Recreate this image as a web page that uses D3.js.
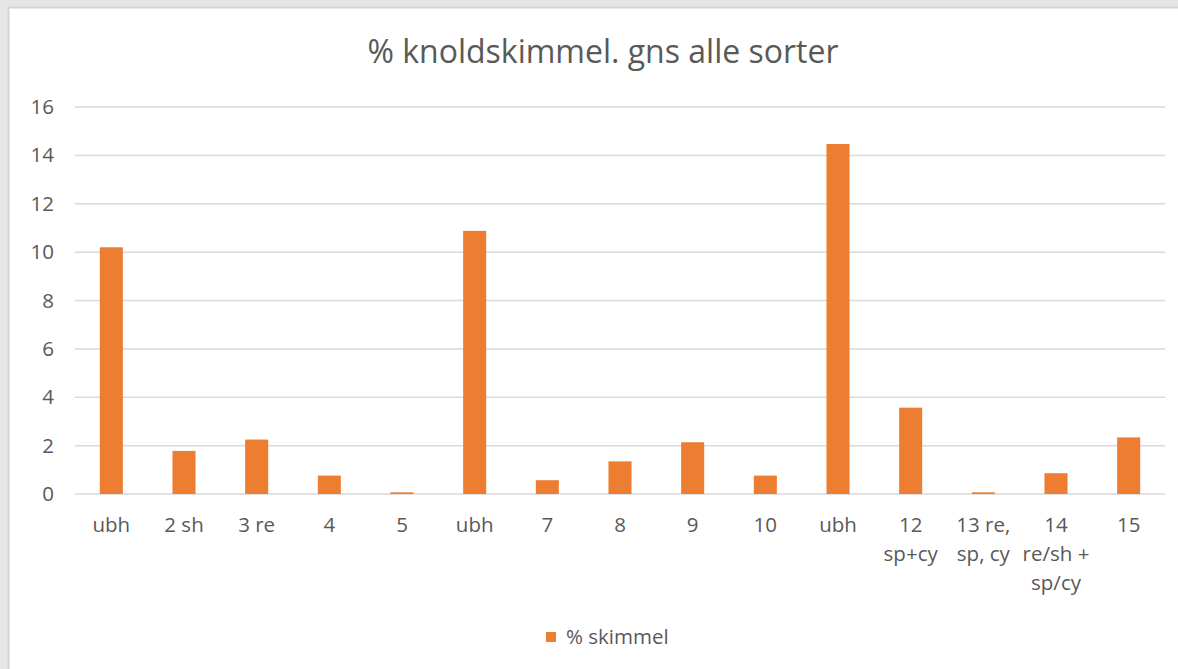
<!DOCTYPE html>
<html>
<head>
<meta charset="utf-8">
<script src="https://cdn.jsdelivr.net/npm/d3@7"></script>
<style>
  body { margin: 0; background: #e6e6e6; }
  #viz { position: absolute; left: 0; top: 0; }
  text { font-family: 'Open Sans', sans-serif; fill: #595959; }
</style>
</head>
<body>
<div id="viz"></div>
<script>
// data
const labels = ['ubh', '2 sh', '3 re', '4', '5', 'ubh', '7', '8', '9', '10', 'ubh', '12\nsp+cy', '13 re,\nsp, cy', '14\nre/sh +\nsp/cy', '15'];
const skimmel = [10.2, 1.78, 2.25, 0.76, 0.07, 10.88, 0.57, 1.35, 2.14, 0.76, 14.47, 3.57, 0.07, 0.86, 2.34];
const yTicks = [0, 2, 4, 6, 8, 10, 12, 14, 16];
const title = '% knoldskimmel. gns alle sorter';
const seriesName = '% skimmel';

const w = 1178;
const h = 669;
const fs = '20.5px';

var svg = d3.select('#viz').
append('svg').
attr('width', w).
attr('height', h);

// chart panel
svg.append('rect').
attr('x', 8.5).
attr('y', 7.5).
attr('width', w).
attr('height', h).
attr('fill', '#ffffff').
attr('stroke', '#d4d4d4').
attr('stroke-width', 2);

svg.append('text').
text(title).
attr('x', 603).
attr('y', 63).
attr('text-anchor', 'middle').
style('font-size', '32px');

const xScale = d3.scaleBand().
domain(d3.range(labels.length)).
range([75, 1165]);

const yScale = d3.scaleLinear().
domain([0, 16]).
range([494, 107]);

// gridlines
svg.append('g').
selectAll('line').
data(yTicks).
enter().
append('line').
attr('x1', 75).
attr('x2', 1165).
attr('y1', d => yScale(d)).
attr('y2', d => yScale(d)).
attr('stroke', '#d9d9d9').
attr('stroke-width', 1.5);

const yAxis = d3.axisLeft(yScale).
tickValues(yTicks).
tickSize(0).
tickPadding(21);

var yg = svg.append('g').
attr('transform', 'translate(75,0)').
call(yAxis);
yg.select('.domain').remove();
yg.selectAll('text').
style('font-size', fs).
style('font-family', "'Open Sans', sans-serif").
attr('fill', '#595959');

// bars
const barW = xScale.bandwidth() * 0.317;
svg.selectAll('rect.bar').
data(skimmel).
enter().
append('rect').
attr('class', 'bar').
attr('x', (d, i) => xScale(i) + (xScale.bandwidth() - barW) / 2).
attr('y', d => yScale(d)).
attr('width', barW).
attr('height', d => yScale(0) - yScale(d)).
attr('fill', '#ed7d31');

// x axis labels
const xAxis = d3.axisBottom(xScale).
tickSize(0).
tickFormat('');

var xg = svg.append('g').
attr('transform', 'translate(0,494)').
call(xAxis);
xg.select('.domain').remove();

xg.selectAll('.tick').each(function (d) {
  const t = d3.select(this).append('text').
  attr('text-anchor', 'middle').
  style('font-size', fs);
  labels[d].split('\n').forEach(function (line, k) {
    t.append('tspan').
    attr('x', 0).
    attr('y', 38 + k * 29).
    text(line);
  });
});

// legend
svg.append('rect').
attr('x', 546).
attr('y', 632).
attr('width', 10).
attr('height', 10).
attr('fill', '#ed7d31');

svg.append('text').
text(seriesName).
attr('x', 566).
attr('y', 644).
style('font-size', fs);
</script>
</body>
</html>
